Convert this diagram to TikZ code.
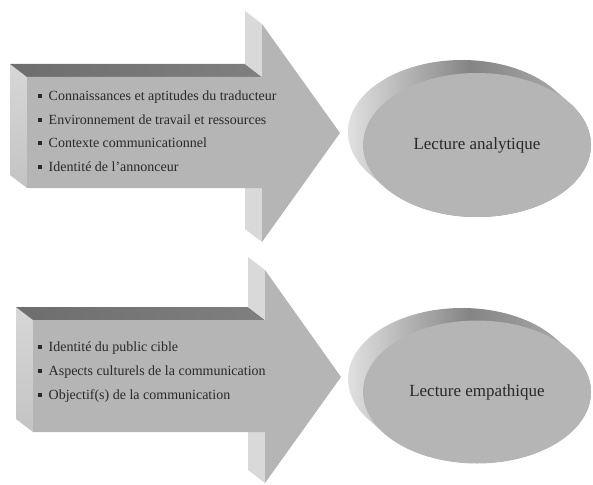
\documentclass[tikz,border=0pt]{standalone}
\usepackage{fontspec}
\setmainfont{Liberation Serif}
\usepackage{tikz}
\usetikzlibrary{shapes.geometric,shadings,positioning}
\definecolor{face}{RGB}{181,181,181}
\definecolor{side}{RGB}{217,217,217}
\definecolor{txt}{RGB}{40,40,40}
\newcommand{\carre}{\rule[0.17em]{0.3em}{0.3em}\hspace{0.45em}}

\begin{document}
\begin{tikzpicture}[x=1pt,y=-1pt,
	item/.style={anchor=base west,inner sep=0pt,text=txt,font=\fontsize{14}{16}\selectfont},
	disque/.style={ellipse,fill=face,minimum width=228pt,minimum height=143pt,inner sep=0pt,text=txt,font=\fontsize{17}{19}\selectfont},
	bord/.style={left color=black!12,right color=black!30,middle color=black!48}]
	\useasboundingbox (0,0) rectangle (593,484);
	% analytique
	\shade[top color=side!105,bottom color=side!90!black] (10,64) -- (27,77) -- (27,188) -- (10,175) -- cycle;
	\shade[left color=black!57,right color=black!50] (10,64) -- (245,64) -- (262,77) -- (27,77) -- cycle;
	\fill[side] (245,11) -- (262,24) -- (262,77) -- (245,64) -- cycle;
	\fill[side] (245,175) -- (262,188) -- (262,242) -- (245,229) -- cycle;
	\fill[face] (27,77) -- (262,77) -- (262,24) -- (340,133) -- (262,242) -- (262,188) -- (27,188) -- cycle;
	\foreach \t [count=\i] in {{Connaissances et aptitudes du traducteur},{Environnement de travail et ressources},{Contexte communicationnel},{Identité de l’annonceur}}
		\node[item] (a\i) at (38,{100.5+23.6*(\i-1)}) {\carre\t};
	\shade[bord] foreach \k in {0,1,...,15} {({477-\k},{145-\k*13/15}) ellipse [x radius=114,y radius=72]};
	\node[disque,minimum height=144pt] (lecA) at (477,145) {Lecture analytique};
	% empathique
	\shade[top color=side!105,bottom color=side!90!black] (16,307) -- (33,320) -- (33,432) -- (16,419) -- cycle;
	\shade[left color=black!57,right color=black!50] (16,307) -- (248,307) -- (265,320) -- (33,320) -- cycle;
	\fill[side] (248,257) -- (265,270) -- (265,320) -- (248,307) -- cycle;
	\fill[side] (248,419) -- (265,432) -- (265,483) -- (248,470) -- cycle;
	\fill[face] (33,320) -- (265,320) -- (265,270) -- (341,377) -- (265,483) -- (265,432) -- (33,432) -- cycle;
	\foreach \t [count=\i] in {{Identité du public cible},{Aspects culturels de la communication},{Objectif(s) de la communication}}
		\node[item] (b\i) at (38,{351.5+24*(\i-1)}) {\carre\t};
	\shade[bord] foreach \k in {0,1,...,15} {({477-\k},{392-\k*13/15}) ellipse [x radius=114,y radius=71]};
	\node[disque] (lecE) at (477,392) {Lecture empathique};
\end{tikzpicture}
\end{document}
